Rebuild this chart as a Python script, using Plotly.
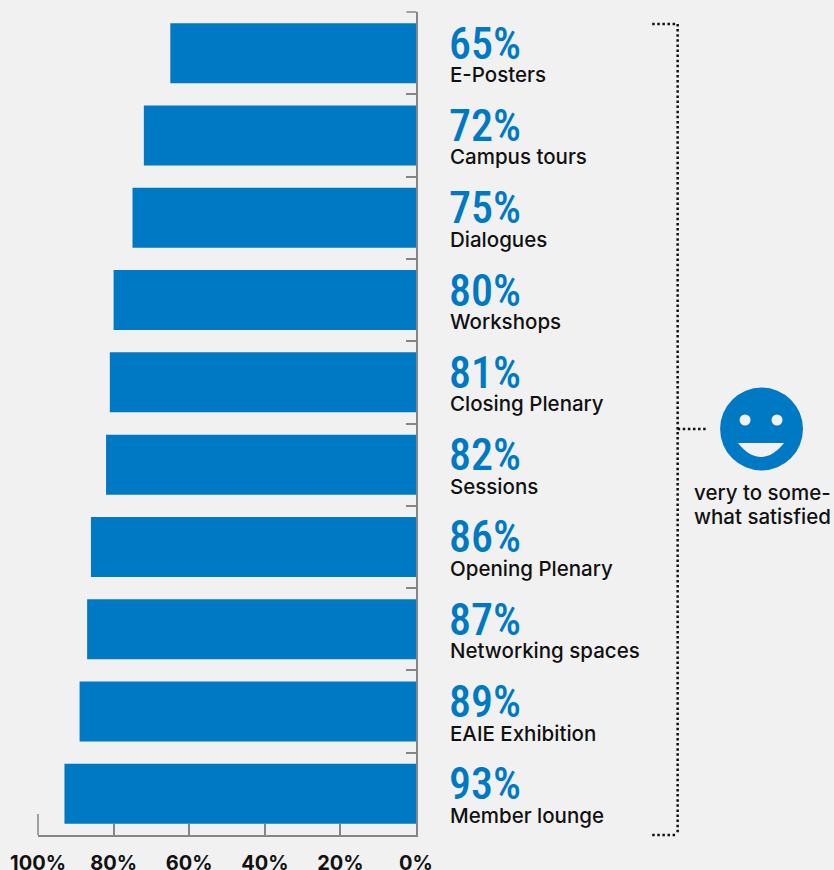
import plotly.graph_objects as go

# Satisfaction by conference element
categories = ["E-Posters", "Campus tours", "Dialogues", "Workshops", "Closing Plenary",
              "Sessions", "Opening Plenary", "Networking spaces", "EAIE Exhibition", "Member lounge"]
satisfied = [65, 72, 75, 80, 81, 82, 86, 87, 89, 93]
x_ticks = [100, 80, 60, 40, 20, 0]
x_tick_labels = ["100%", "80%", "60%", "40%", "20%", "0%"]
summary_lines = ["very to some-", "what satisfied"]

W, H = 834, 870
LEFT, RIGHT, TOP, BOTTOM = 38, 416.5, 12, 835
BLUE = "#0079c4"
GREY = "#858585"
BG = "#f1f1f1"
TEXT = "#111111"
LABEL_FONT = "Inter"
NUMBER_FONT = "Roboto Condensed"


def px(x):
    return (x - LEFT) / (RIGHT - LEFT)


def py(y):
    return (BOTTOM - y) / (BOTTOM - TOP)


fig = go.Figure(go.Bar(
    y=list(range(len(categories))), x=satisfied, orientation="h",
    width=0.729, marker=dict(color=BLUE, line=dict(width=0)),
    hovertext=categories, hoverinfo="text+x",
))

annotations = []
for i, (name, value) in enumerate(zip(categories, satisfied)):
    annotations.append(dict(
        x=px(447.5), xref="paper", y=i, yref="y", yshift=9.5, text=f"{value}%", showarrow=False,
        xanchor="left", yanchor="middle",
        font=dict(family=NUMBER_FONT, size=44, color=BLUE, weight=500),
    ))
    annotations.append(dict(
        x=px(448.5), xref="paper", y=i, yref="y", yshift=-21.5, text=name, showarrow=False,
        xanchor="left", yanchor="middle",
        font=dict(family=LABEL_FONT, size=20.5, color=TEXT, weight=500),
    ))
for line, y_px in zip(summary_lines, [492.5, 516]):
    annotations.append(dict(
        x=px(693), xref="paper", y=py(y_px), yref="paper", showarrow=False,
        xanchor="left", yanchor="middle", text=line,
        font=dict(family=LABEL_FONT, size=20.5, color=TEXT, weight=500),
    ))


def paper_line(x0, y0, x1, y1, **line):
    return dict(type="line", xref="paper", yref="paper",
                x0=px(x0), y0=py(y0), x1=px(x1), y1=py(y1), line=line)


def paper_circle(cx, cy, r, color):
    return dict(type="circle", xref="paper", yref="paper",
                x0=px(cx - r), x1=px(cx + r), y0=py(cy - r), y1=py(cy + r),
                fillcolor=color, line=dict(width=0))


dots = dict(color="#111111", width=2.5, dash="2.5px 2.6px")
smile = (f"M {px(739)} {py(443)} L {px(785)} {py(443)} "
         f"C {px(778)} {py(452)} {px(770)} {py(457)} {px(762)} {py(457)} "
         f"C {px(754)} {py(457)} {px(746)} {py(452)} {px(739)} {py(443)} Z")
shapes = [
    paper_line(38, 814, 38, 835, color=GREY, width=1.5),
    paper_line(407, 12, 417, 12, color=GREY, width=1.5),
    # bracket joining all the bars to the summary icon
    paper_line(653, 24, 678.5, 24, **dots),
    paper_line(678.5, 24, 678.5, 835, **dots),
    paper_line(653, 835, 678.5, 835, **dots),
    paper_line(678.5, 429, 709, 429, **dots),
    # smiling face
    paper_circle(762.5, 429, 41.5, BLUE),
    paper_circle(746, 420, 5.5, BG),
    paper_circle(778, 420, 5.5, BG),
    dict(type="path", xref="paper", yref="paper", path=smile, fillcolor=BG, line=dict(width=0)),
]

fig.update_layout(
    width=W, height=H, autosize=False,
    margin=dict(l=LEFT, r=W - RIGHT, t=TOP, b=H - BOTTOM, pad=0),
    paper_bgcolor=BG, plot_bgcolor=BG, showlegend=False,
    annotations=annotations, shapes=shapes,
    xaxis=dict(
        range=[100, 0], tickvals=x_ticks, ticktext=x_tick_labels, ticks="inside", ticklen=11,
        tickcolor=GREY, tickwidth=1.5, showgrid=False, zeroline=False, showline=True,
        linecolor=GREY, linewidth=1.5, ticklabelstandoff=9, automargin=False,
        tickfont=dict(family=LABEL_FONT, size=20, color=TEXT, weight=700),
    ),
    yaxis=dict(
        range=[len(categories) - 0.5, -0.5], side="right", automargin=False,
        tickvals=[i - 0.5 for i in range(len(categories) + 1)], ticktext=[""] * (len(categories) + 1),
        ticks="inside", ticklen=10, tickcolor=GREY, tickwidth=1.5, showgrid=False, zeroline=False,
        showline=True, linecolor=GREY, linewidth=1.5,
    ),
)

fig.write_html("out.html", config=dict(displayModeBar=False))
